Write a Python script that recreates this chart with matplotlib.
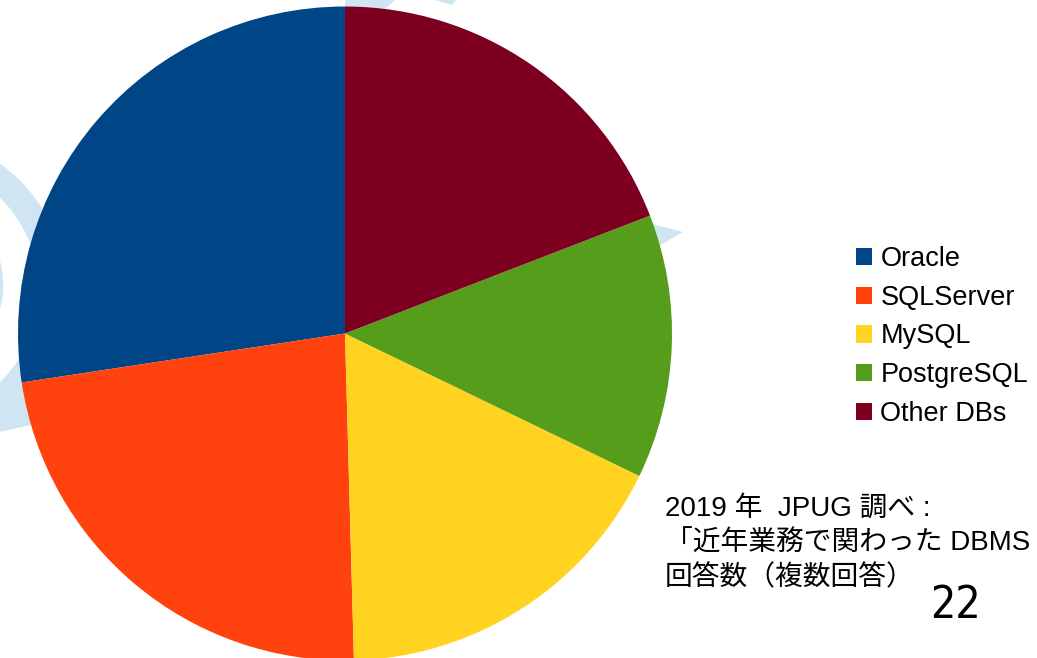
import matplotlib
matplotlib.use('Agg')
from matplotlib import pyplot as plt
from matplotlib.patches import Arc, Polygon

# answers per DBMS (JPUG 2019 survey)
labels = ['Oracle', 'SQLServer', 'MySQL', 'PostgreSQL', 'Other DBs']
counts = [63, 53, 40, 30, 44]
colors = ['#004586', '#ff420e', '#ffd320', '#579d1c', '#7e0021']

note = '2019 年  JPUG 調べ :\n「近年業務で関わった DBMS\n回答数（複数回答）'
page = '22'

W, H = 1037, 658
plt.rcParams['font.family'] = ['Liberation Sans', 'Noto Sans CJK JP', 'DejaVu Sans']

fig = plt.figure(figsize=(W / 100, H / 100), dpi=100)

# faint slide watermark in pixel coords
bg = fig.add_axes([0, 0, 1, 1], zorder=0)
bg.set_xlim(0, W)
bg.set_ylim(H, 0)
bg.axis('off')
wm = '#cfe6f2'
bg.add_patch(Arc((-90, 290), 284, 284, theta1=-80, theta2=80, lw=19, color=wm))
bg.add_patch(Arc((-90, 285), 160, 160, theta1=-80, theta2=80, lw=19, color=wm))
bg.add_patch(Polygon([(0, 397), (40, 390), (40, 423), (0, 432)], color=wm, lw=0))
bg.add_patch(Polygon([(345, 0), (395, 0), (385, 9), (345, 8)], color=wm, lw=0))
bg.add_patch(Polygon([(435, 0), (456, 0), (452, 5)], color=wm, lw=0))
bg.add_patch(Polygon([(640, 221), (683, 232), (652, 250)], color=wm, lw=0))

# pie, centre (345, 333.5) px, radius 327 px
cx, cy, r = 345, 333.5, 327
ax = fig.add_axes([(cx - r) / W, (H - cy - r) / H, 2 * r / W, 2 * r / H], zorder=1)
wedges, _ = ax.pie(counts, colors=colors, startangle=90, counterclock=True,
                   radius=1, wedgeprops=dict(linewidth=0))
ax.set_xlim(-1, 1)
ax.set_ylim(-1, 1)
ax.axis('off')

fig.legend(wedges, labels, loc='upper left', bbox_to_anchor=(856 / W, 1 - 246 / H),
           frameon=False, fontsize=19.5, handlelength=0.6, handleheight=0.6,
           handletextpad=0.3, labelspacing=0.47, borderpad=0, borderaxespad=0)

# baseline given for the last line of the note
fig.text(665 / W, 1 - 585 / H, note, fontsize=20, ha='left', va='baseline',
         linespacing=1.4, zorder=3)
fig.text(930 / W, 1 - 618 / H, page, fontsize=32, ha='left', va='baseline',
         family='DejaVu Sans', fontstretch='condensed', zorder=3)

fig.savefig('out.png', dpi=100)
